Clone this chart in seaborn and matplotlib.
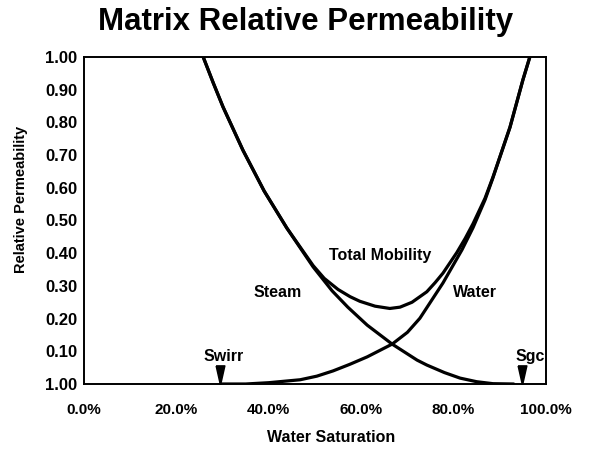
import pandas as pd
import matplotlib
matplotlib.use("Agg")
import matplotlib.pyplot as plt
import seaborn as sns

# Datos (saturacion de agua, permeabilidad relativa)
steam_sw = [0.258, 0.280, 0.301, 0.344, 0.390, 0.439, 0.496, 0.537, 0.571, 0.613,
            0.667, 0.721, 0.742, 0.780, 0.814, 0.850, 0.885, 0.930]
steam_kr = [1.000, 0.920, 0.847, 0.715, 0.590, 0.477, 0.358, 0.285, 0.235, 0.180,
            0.122, 0.073, 0.058, 0.035, 0.018, 0.007, 0.001, 0.000]

water_sw = [0.295, 0.350, 0.400, 0.468, 0.504, 0.539, 0.575, 0.613, 0.667, 0.700,
            0.727, 0.777, 0.818, 0.842, 0.868, 0.885, 0.922, 0.950, 0.965]
water_kr = [0.000, 0.000, 0.004, 0.013, 0.024, 0.040, 0.060, 0.083, 0.122, 0.158,
            0.201, 0.309, 0.410, 0.478, 0.563, 0.630, 0.785, 0.930, 1.000]

total_sw = [0.258, 0.280, 0.301, 0.344, 0.390, 0.439, 0.496, 0.520, 0.550, 0.576,
            0.597, 0.630, 0.662, 0.684, 0.710, 0.742, 0.760, 0.777, 0.807, 0.825,
            0.842, 0.868, 0.885, 0.922, 0.950, 0.965]
total_kr = [1.000, 0.920, 0.847, 0.715, 0.590, 0.477, 0.362, 0.323, 0.289, 0.267,
            0.253, 0.238, 0.231, 0.235, 0.250, 0.282, 0.310, 0.339, 0.402, 0.445,
            0.490, 0.568, 0.632, 0.785, 0.930, 1.000]

# Marcadores Swirr y Sgc
marker_names = ["Swirr", "Sgc"]
marker_sw = [0.294, 0.948]
marker_kr = [0.026, 0.026]

x_ticks = [0.0, 0.1, 0.2, 0.3, 0.4, 0.5, 0.6, 0.7, 0.8, 0.9, 1.0]
x_labels = ["0.0%", "", "20.0%", "", "40.0%", "", "60.0%", "", "80.0%", "", "100.0%"]
y_ticks = [0.0, 0.1, 0.2, 0.3, 0.4, 0.5, 0.6, 0.7, 0.8, 0.9, 1.0]
y_labels = ["1.00", "0.10", "0.20", "0.30", "0.40", "0.50", "0.60", "0.70", "0.80", "0.90", "1.00"]

sns.set_style("white")
plt.rcParams["font.family"] = ["Liberation Sans", "DejaVu Sans"]
plt.rcParams["font.weight"] = "bold"
plt.rcParams["text.color"] = "black"
plt.rcParams["axes.labelcolor"] = "black"
plt.rcParams["xtick.color"] = "black"
plt.rcParams["ytick.color"] = "black"

df_steam = pd.DataFrame({"sw": steam_sw, "kr": steam_kr})
df_water = pd.DataFrame({"sw": water_sw, "kr": water_kr})
df_total = pd.DataFrame({"sw": total_sw, "kr": total_kr})
df_mark = pd.DataFrame({"sw": marker_sw, "kr": marker_kr, "name": marker_names})

fig = plt.figure(figsize=(5.91, 4.5), dpi=100)
ax = fig.add_axes([84 / 591, 66 / 450, 462 / 591, 327 / 450])

for d in (df_steam, df_water, df_total):
    sns.lineplot(data=d, x="sw", y="kr", ax=ax, color="black", linewidth=2.3,
                 estimator=None, sort=False)

# triangulo estrecho apuntando hacia abajo
tri = [(-0.45, 1.0), (0.45, 1.0), (0.0, -1.0), (-0.45, 1.0)]
sns.scatterplot(data=df_mark, x="sw", y="kr", ax=ax, marker=tri, s=190,
                color="black", edgecolor="black", zorder=5)

ax.set_xlim(0, 1)
ax.set_ylim(0, 1)
ax.set_xticks(x_ticks)
ax.set_xticklabels(x_labels)
ax.set_yticks(y_ticks)
ax.set_yticklabels(y_labels)
ax.tick_params(axis="x", direction="in", length=9, width=1.2, pad=14, labelsize=11)
ax.tick_params(axis="y", direction="in", length=6, width=1.0, pad=5, labelsize=12)
for s in ax.spines.values():
    s.set_linewidth(1.4)
    s.set_color("black")

ax.set_xlabel("Water Saturation", fontsize=11.5, fontweight="bold")
ax.xaxis.set_label_coords((331 - 84) / 462, (384 - 430) / 327)
ax.set_ylabel("Relative Permeability", fontsize=10.5, fontweight="bold")
ax.yaxis.set_label_coords((28 - 84) / 462, (384 - 199) / 327)

# Etiquetas de las curvas
ax.text(0.640, 0.392, "Total Mobility", fontsize=11.5, fontweight="bold", ha="center", va="center")
ax.text(0.420, 0.280, "Steam", fontsize=11.5, fontweight="bold", ha="center", va="center")
ax.text(0.846, 0.280, "Water", fontsize=11.5, fontweight="bold", ha="center", va="center")
for nm, xv in zip(marker_names, [0.303, 0.965]):
    ax.text(xv, 0.084, nm, fontsize=11.5, fontweight="bold", ha="center", va="center")

fig.text(306 / 591, 1 - 22 / 450, "Matrix Relative Permeability", fontsize=22.5,
         fontweight="bold", ha="center", va="center")

fig.savefig("out.png", dpi=100)
